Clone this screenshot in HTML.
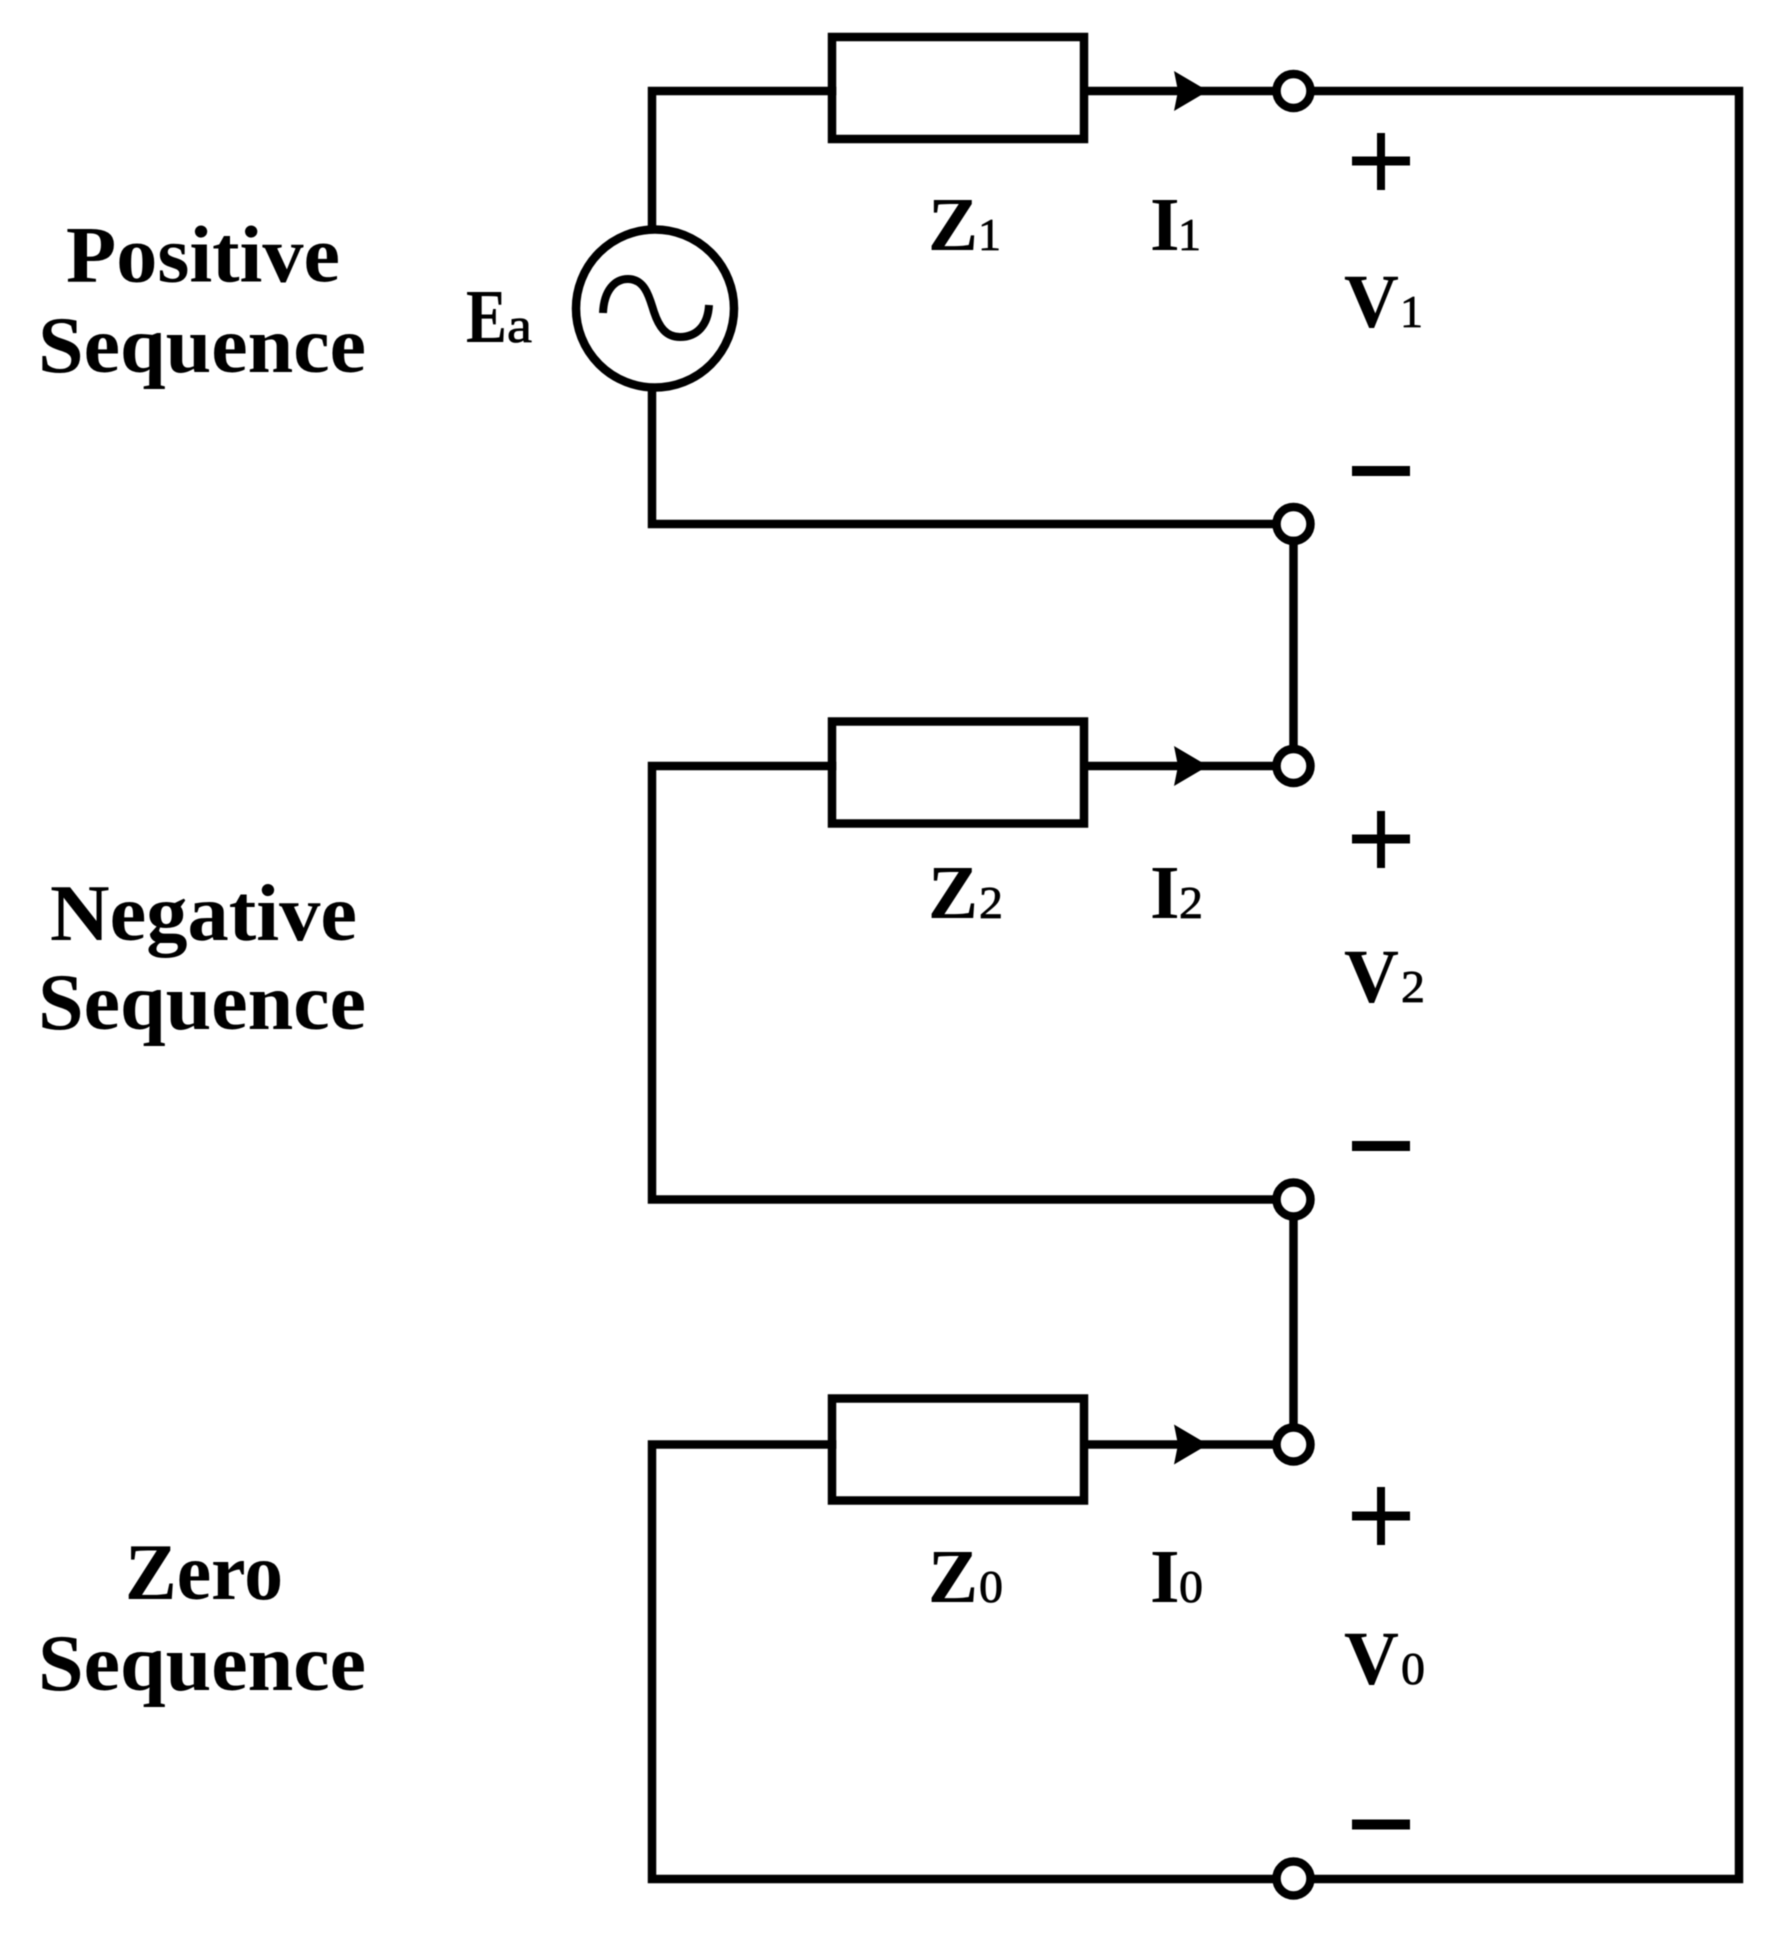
<!DOCTYPE html>
<html><head><meta charset="utf-8"><style>
html,body{margin:0;padding:0;background:#fff}
svg{display:block;filter:blur(0.6px)}
text{font-family:"Liberation Serif",serif;fill:#000}
.h{font-weight:bold;font-size:81px}
.l{font-weight:bold;font-size:76px}
.s{font-size:46px;stroke:#000;stroke-width:.8px}
</style></head><body>
<svg width="1771" height="1938" viewBox="0 0 1771 1938" xmlns="http://www.w3.org/2000/svg">
<rect width="1771" height="1938" fill="#fff"/>
<g fill="none" stroke="#000" stroke-width="8.500" stroke-linecap="square">
<path d="M832 91H652V229M652 388V524H1276"/>
<path d="M1089 91H1276M1311 91H1739V1879H1311"/>
<path d="M1293.500 541V748"/>
<path d="M832 766H652V1199.500H1276M1089 766H1276"/>
<path d="M1293.500 1217V1427"/>
<path d="M832 1444.500H652V1879H1276M1089 1444.500H1276"/>
<rect x="832" y="37" width="252" height="102"/>
<rect x="832" y="721.500" width="252" height="102"/>
<rect x="832" y="1398.500" width="252" height="102"/>
<circle cx="1293.500" cy="91" r="17"/>
<circle cx="1293.500" cy="524" r="17"/>
<circle cx="1293.500" cy="766" r="17"/>
<circle cx="1293.500" cy="1199.500" r="17"/>
<circle cx="1293.500" cy="1444.500" r="17"/>
<circle cx="1293.500" cy="1878.500" r="17"/>
<circle cx="655" cy="308.500" r="79"/>
<path d="M603 313C604 290 615 279 628 279C646 279 650 300 654 312C659 327 666 337 680 337C697 337 708 325 709 305" stroke-width="8" stroke-linecap="butt"/>
</g>
<g fill="#000">
<path d="M1174 71L1208 91L1174 111L1178 91Z"/>
<path d="M1174 746L1208 766L1174 786L1178 766Z"/>
<path d="M1174 1424.500L1208 1444.500L1174 1464.500L1178 1444.500Z"/>
<rect x="1352" y="156.500" width="58" height="9"/><rect x="1377" y="133" width="8" height="57"/>
<rect x="1352" y="834.500" width="58" height="9"/><rect x="1377" y="811" width="8" height="57"/>
<rect x="1352" y="1511.500" width="58" height="9"/><rect x="1377" y="1487" width="8" height="58"/>
<rect x="1352" y="466" width="58" height="10"/>
<rect x="1352" y="1141" width="58" height="10"/>
<rect x="1352" y="1819.500" width="58" height="10"/>
</g>
<text class="h" x="66" y="281.500" textLength="274" lengthAdjust="spacingAndGlyphs">Positive</text>
<text class="h" x="38" y="372" textLength="328" lengthAdjust="spacingAndGlyphs">Sequence</text>
<text class="h" x="50" y="940" textLength="307" lengthAdjust="spacingAndGlyphs">Negative</text>
<text class="h" x="38" y="1029" textLength="328" lengthAdjust="spacingAndGlyphs">Sequence</text>
<text class="h" x="125" y="1599" textLength="158" lengthAdjust="spacingAndGlyphs">Zero</text>
<text class="h" x="38" y="1690" textLength="328" lengthAdjust="spacingAndGlyphs">Sequence</text>

<text class="l" x="466" y="342" textLength="41" lengthAdjust="spacingAndGlyphs">E</text><text class="s" x="507" y="342" textLength="25" lengthAdjust="spacingAndGlyphs" style="font-size:50px">a</text>

<text class="l" x="928" y="250" textLength="50" lengthAdjust="spacingAndGlyphs">Z</text><text class="s" x="978" y="250">1</text>
<text class="l" x="1150" y="250">I</text><text class="s" x="1178" y="250">1</text>
<text class="l" x="1344" y="327">V</text><text class="s" x="1400" y="327">1</text>

<text class="l" x="928" y="918" textLength="50" lengthAdjust="spacingAndGlyphs">Z</text><text class="s" x="979" y="918" textLength="24" lengthAdjust="spacingAndGlyphs">2</text>
<text class="l" x="1150" y="918">I</text><text class="s" x="1179" y="918" textLength="24" lengthAdjust="spacingAndGlyphs">2</text>
<text class="l" x="1344" y="1002">V</text><text class="s" x="1401" y="1002" textLength="24" lengthAdjust="spacingAndGlyphs">2</text>

<text class="l" x="928" y="1602" textLength="50" lengthAdjust="spacingAndGlyphs">Z</text><text class="s" x="979" y="1602" textLength="24" lengthAdjust="spacingAndGlyphs">0</text>
<text class="l" x="1150" y="1602">I</text><text class="s" x="1179" y="1602" textLength="24" lengthAdjust="spacingAndGlyphs">0</text>
<text class="l" x="1344" y="1684">V</text><text class="s" x="1401" y="1684" textLength="24" lengthAdjust="spacingAndGlyphs">0</text>
</svg>
</body></html>
